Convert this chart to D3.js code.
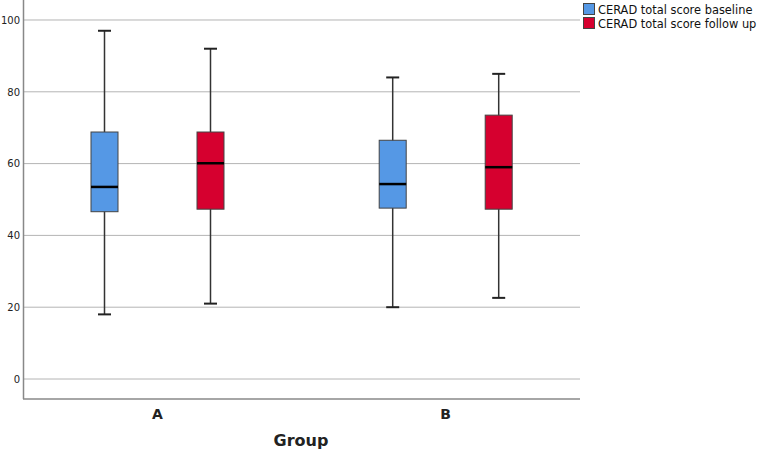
<!DOCTYPE html>
<html>
<head>
<meta charset="utf-8">
<script src="https://cdn.jsdelivr.net/npm/d3@7"></script>
<style>
  body { margin: 0; background: #fff; }
  text { font-family: "DejaVu Sans", sans-serif; }
</style>
</head>
<body>
<div id="chart"></div>
<script>
  // data
  const groups = ["A", "B"];
  const series = ["CERAD total score baseline", "CERAD total score follow up"];
  const colors = ["#5598e5", "#d6002f"];
  // [min, q1, median, q3, max] per group
  const baseline = [
    [18, 46.6, 53.5, 68.8, 97],
    [20, 47.6, 54.3, 66.5, 84]
  ];
  const followUp = [
    [21, 47.3, 60.1, 68.8, 92],
    [22.6, 47.3, 59, 73.5, 85]
  ];
  const yTicks = [0, 20, 40, 60, 80, 100];

  // set size and margins
  const width = 762;
  const height = 451;
  const margin = { top: 0, right: 182, bottom: 52, left: 23 };
  const innerW = width - margin.left - margin.right;
  const innerH = height - margin.top - margin.bottom;

  const svg = d3
    .select("#chart")
    .append("svg")
    .attr("width", width)
    .attr("height", height);

  const g = svg
    .append("g")
    .attr("transform", `translate(${margin.left},${margin.top})`);

  // scales
  const y = d3.scaleLinear().domain([-5.57, 105.57]).range([innerH, 0]);
  const x = d3.scalePoint().domain(groups).range([134.5, 422.7]);
  const sub = d3.scalePoint().domain(series).range([-53, 53]);

  // horizontal grid
  g.selectAll(".grid")
    .data(yTicks)
    .join("line")
    .attr("x1", 0)
    .attr("x2", innerW)
    .attr("y1", (d) => y(d))
    .attr("y2", (d) => y(d))
    .attr("stroke", "#b4b4b4")
    .attr("stroke-width", 1);

  // y axis
  const yAxis = g
    .append("g")
    .call(d3.axisLeft(y).tickValues(yTicks).tickSize(0).tickPadding(3));
  yAxis.select(".domain").remove();
  yAxis.selectAll("text").style("font-size", "10px").attr("fill", "#222");

  // axis lines
  g.append("line")
    .attr("x1", 0.5).attr("x2", 0.5)
    .attr("y1", 0).attr("y2", innerH)
    .attr("stroke", "#888").attr("stroke-width", 1.5);
  g.append("line")
    .attr("x1", 0).attr("x2", innerW)
    .attr("y1", innerH).attr("y2", innerH)
    .attr("stroke", "#888").attr("stroke-width", 1.5);

  // x labels
  g.selectAll(".xlab")
    .data(groups)
    .join("text")
    .attr("x", (d) => x(d))
    .attr("y", innerH + 20)
    .attr("text-anchor", "middle")
    .style("font-size", "14px")
    .style("font-weight", "600")
    .attr("fill", "#222")
    .text((d) => d);

  g.append("text")
    .attr("x", 278)
    .attr("y", innerH + 47)
    .attr("text-anchor", "middle")
    .style("font-size", "16px")
    .style("font-weight", "bold")
    .attr("fill", "#222")
    .text("Group");

  // boxes
  const boxW = 27;
  const capW = 13;
  [baseline, followUp].forEach((vals, s) => {
    groups.forEach((grp, i) => {
      const [mn, q1, med, q3, mx] = vals[i];
      const cx = x(grp) + sub(series[s]);
      const bx = g.append("g");
      bx.append("line")
        .attr("x1", cx).attr("x2", cx)
        .attr("y1", y(mx)).attr("y2", y(mn))
        .attr("stroke", "#333").attr("stroke-width", 1.5);
      [mn, mx].forEach((v) => {
        bx.append("line")
          .attr("x1", cx - capW / 2).attr("x2", cx + capW / 2)
          .attr("y1", y(v)).attr("y2", y(v))
          .attr("stroke", "#222").attr("stroke-width", 2);
      });
      bx.append("rect")
        .attr("x", cx - boxW / 2)
        .attr("y", y(q3))
        .attr("width", boxW)
        .attr("height", y(q1) - y(q3))
        .attr("fill", colors[s])
        .attr("stroke", "#444")
        .attr("stroke-width", 1);
      bx.append("line")
        .attr("x1", cx - boxW / 2).attr("x2", cx + boxW / 2)
        .attr("y1", y(med)).attr("y2", y(med))
        .attr("stroke", "#000").attr("stroke-width", 2.5);
    });
  });

  // legend
  const leg = svg
    .append("g")
    .attr("transform", `translate(${margin.left + innerW + 3},3)`);
  series.forEach((s, i) => {
    leg.append("rect")
      .attr("x", 0.5)
      .attr("y", i * 14 + 0.5)
      .attr("width", 11)
      .attr("height", 11)
      .attr("fill", colors[i])
      .attr("stroke", "#444");
    leg.append("text")
      .attr("x", 15)
      .attr("y", i * 14 + 10.5)
      .style("font-size", "11.4px")
      .attr("fill", "#111")
      .text(s);
  });
</script>
</body>
</html>
